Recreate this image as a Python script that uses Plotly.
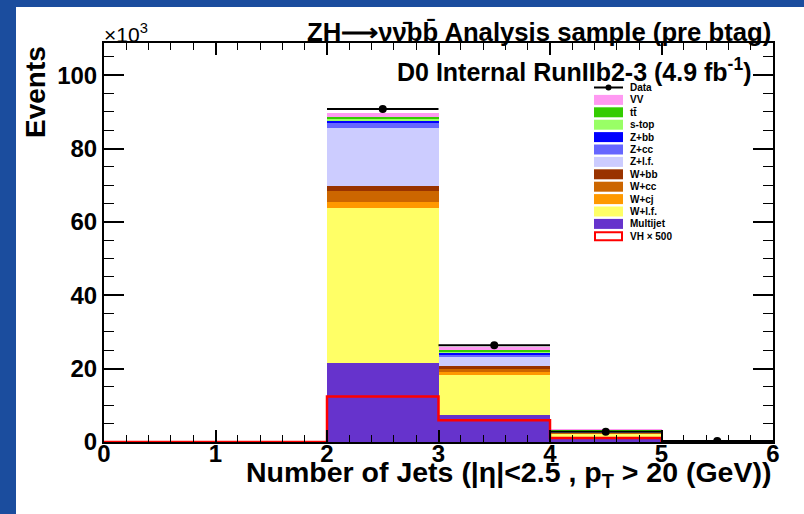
import plotly.graph_objects as go

# ---------------- data (values in units of 10^3 events) ----------------
bin_edges = [0, 1, 2, 3, 4, 5, 6]
bin_centers = [0.5, 1.5, 2.5, 3.5, 4.5, 5.5]
bin_halfwidth = [0.5, 0.5, 0.5, 0.5, 0.5, 0.5]

multijet = [0, 0, 21.5, 7.4, 1.1, 0.12]
w_lf     = [0, 0, 42.3, 11.0, 1.15, 0.10]
w_cj     = [0, 0, 1.7, 0.6, 0.15, 0.02]
w_cc     = [0, 0, 3.0, 1.1, 0.20, 0.02]
w_bb     = [0, 0, 1.3, 0.5, 0.10, 0.01]
z_lf     = [0, 0, 15.9, 2.7, 0.30, 0.03]
z_cc     = [0, 0, 1.4, 0.5, 0.06, 0.01]
z_bb     = [0, 0, 0.7, 0.6, 0.06, 0.01]
s_top    = [0, 0, 0.3, 0.2, 0.04, 0.005]
ttbar    = [0, 0, 0.6, 0.6, 0.30, 0.04]
vv       = [0, 0, 1.1, 0.8, 0.05, 0.005]
data     = [0, 0, 90.8, 26.4, 2.8, 0.3]
vh_x500  = [0, 0, 12.4, 5.9, 1.1, 0.2]

# stacking order bottom -> top
stack_names = ["Multijet", "W+l.f.", "W+cj", "W+cc", "W+bb", "Z+l.f.", "Z+cc",
               "Z+bb", "s-top", "tt\u0304", "VV"]
stack_values = [multijet, w_lf, w_cj, w_cc, w_bb, z_lf, z_cc, z_bb, s_top, ttbar, vv]
stack_colors = ["#6633cc", "#ffff66", "#ff9900", "#cc6600", "#993300", "#ccccff",
                "#6666ff", "#0000ff", "#99ff66", "#33cc00", "#ff99f2"]

y_ticks = [0, 20, 40, 60, 80, 100]
x_ticks = [0, 1, 2, 3, 4, 5, 6]

FONT = "Liberation Sans, Arial, Helvetica, sans-serif"
BLUE = "#1b4d9e"

fig = go.Figure()

for name, vals, col in zip(stack_names, stack_values, stack_colors):
    fig.add_trace(go.Bar(x=bin_centers, y=vals, width=1, name=name,
                         marker=dict(color=col, line=dict(width=0)),
                         showlegend=False))

# VH x 500 outline (step histogram)
fig.add_trace(go.Scatter(x=bin_edges, y=vh_x500 + [vh_x500[-1]], mode="lines",
                         line=dict(color="#ff0000", width=2.5, shape="hv"),
                         showlegend=False))

# data points with horizontal bin-width bars
dx = [c for c, d in zip(bin_centers, data) if d > 0]
dy = [d for d in data if d > 0]
dex = [h for h, d in zip(bin_halfwidth, data) if d > 0]
fig.add_trace(go.Scatter(x=dx, y=dy, mode="markers",
                         marker=dict(color="black", size=8),
                         error_x=dict(type="data", array=dex, symmetric=True,
                                      color="black", thickness=2, width=0),
                         showlegend=False))

# ---------------- layout ----------------
L, R, T, B = 104, 31, 43, 72
W, H = 804, 514
PW, PH = W - L - R, H - T - B

def px(xp):
    return (xp - L) / PW

def py(yp):
    return (H - B - yp) / PH

shapes = [
    # blue slide border (left and top)
    dict(type="rect", xref="paper", yref="paper", x0=px(-20), x1=px(16),
         y0=py(540), y1=py(-20), fillcolor=BLUE, line=dict(width=0), layer="below"),
    dict(type="rect", xref="paper", yref="paper", x0=px(-20), x1=px(830),
         y0=py(7), y1=py(-20), fillcolor=BLUE, line=dict(width=0), layer="below"),
]
annotations = []

# custom legend
legend_names = ["Data", "VV", "tt\u0304", "s-top", "Z+bb", "Z+cc", "Z+l.f.",
                "W+bb", "W+cc", "W+cj", "W+l.f.", "Multijet", "VH \u00d7 500"]
legend_colors = [None, "#ff99f2", "#33cc00", "#99ff66", "#0000ff", "#6666ff",
                 "#ccccff", "#993300", "#cc6600", "#ff9900", "#ffff66", "#6633cc", None]
y0_leg, dy_leg = 87.5, 12.4
sx0, sx1, tx = 594, 623, 628
for i, (nm, col) in enumerate(zip(legend_names, legend_colors)):
    yc = y0_leg + dy_leg * i
    if nm == "Data":
        shapes.append(dict(type="line", xref="paper", yref="paper",
                           x0=px(sx0), x1=px(sx1), y0=py(yc), y1=py(yc),
                           line=dict(color="black", width=2)))
        shapes.append(dict(type="circle", xref="paper", yref="paper",
                           x0=px(608.5 - 3), x1=px(608.5 + 3), y0=py(yc + 3), y1=py(yc - 3),
                           fillcolor="black", line=dict(color="black", width=0)))
    elif col is None:
        shapes.append(dict(type="rect", xref="paper", yref="paper",
                           x0=px(sx0 + 1), x1=px(sx1 - 1), y0=py(yc + 4), y1=py(yc - 4),
                           fillcolor="white", line=dict(color="#ff0000", width=2)))
    else:
        shapes.append(dict(type="rect", xref="paper", yref="paper",
                           x0=px(sx0), x1=px(sx1), y0=py(yc + 5), y1=py(yc - 5),
                           fillcolor=col, line=dict(width=0)))
    annotations.append(dict(text="<b>%s</b>" % nm, xref="paper", yref="paper",
                            x=px(tx), y=py(yc), xanchor="left", yanchor="middle",
                            showarrow=False, font=dict(size=10, color="black", family=FONT)))

# titles and labels
annotations += [
    dict(text="<b>ZH\u27f6\u03bd\u03bd\u0304bb\u0304 Analysis sample (pre btag)</b>",
         xref="paper", yref="paper", x=px(773), y=py(32), xanchor="right", yanchor="middle",
         showarrow=False, font=dict(size=25.7, color="black", family=FONT)),
    dict(text="<b>D0 Internal RunIIb2-3 (4.9 fb<sup>-1</sup>)</b>",
         xref="paper", yref="paper", x=px(754), y=py(70), xanchor="right", yanchor="middle",
         showarrow=False, font=dict(size=25, color="black", family=FONT)),
    dict(text="\u00d710<sup>3</sup>", xref="paper", yref="paper", x=px(102), y=py(33),
         xanchor="left", yanchor="middle", showarrow=False,
         font=dict(size=21, color="black", family=FONT)),
    dict(text="<b>Events</b>", xref="paper", yref="paper", x=px(35), y=py(44),
         xanchor="center", yanchor="top", textangle=-90, showarrow=False,
         font=dict(size=28, color="black", family=FONT)),
    dict(text="<b>Number of Jets (|\u03b7|<2.5 , p<sub>T</sub> > 20 (GeV))</b>",
         xref="paper", yref="paper", x=px(773), y=py(474), xanchor="right", yanchor="middle",
         showarrow=False, font=dict(size=28.5, color="black", family=FONT)),
]

fig.update_layout(
    width=W, height=H,
    margin=dict(l=L, r=R, t=T, b=B, pad=0),
    paper_bgcolor="white",
    plot_bgcolor="white",
    barmode="stack",
    bargap=0,
    showlegend=False,
    shapes=shapes,
    annotations=annotations,
    font=dict(family=FONT, color="black"),
)
fig.update_xaxes(range=[0, 6], tickvals=x_ticks, ticktext=[str(t) for t in x_ticks],
                 ticks="inside", ticklen=12, tickwidth=1.5, tickcolor="black",
                 showline=True, linecolor="black", linewidth=2, mirror="ticks",
                 showgrid=False, zeroline=False, ticklabelstandoff=-11,
                 tickfont=dict(size=24, family=FONT, color="black", weight="bold"),
                 minor=dict(dtick=0.2, tick0=0, ticks="inside", ticklen=7,
                            tickwidth=1.2, tickcolor="black", showgrid=False))
fig.update_yaxes(range=[0, 108.8], tickvals=y_ticks, ticktext=[str(t) for t in y_ticks],
                 ticks="inside", ticklen=20, tickwidth=1.5, tickcolor="black",
                 showline=True, linecolor="black", linewidth=2, mirror="ticks",
                 showgrid=False, zeroline=False,
                 tickfont=dict(size=24, family=FONT, color="black", weight="bold"),
                 minor=dict(dtick=5, tick0=0, ticks="inside", ticklen=10,
                            tickwidth=1.2, tickcolor="black", showgrid=False))

fig.write_html("out.html")
